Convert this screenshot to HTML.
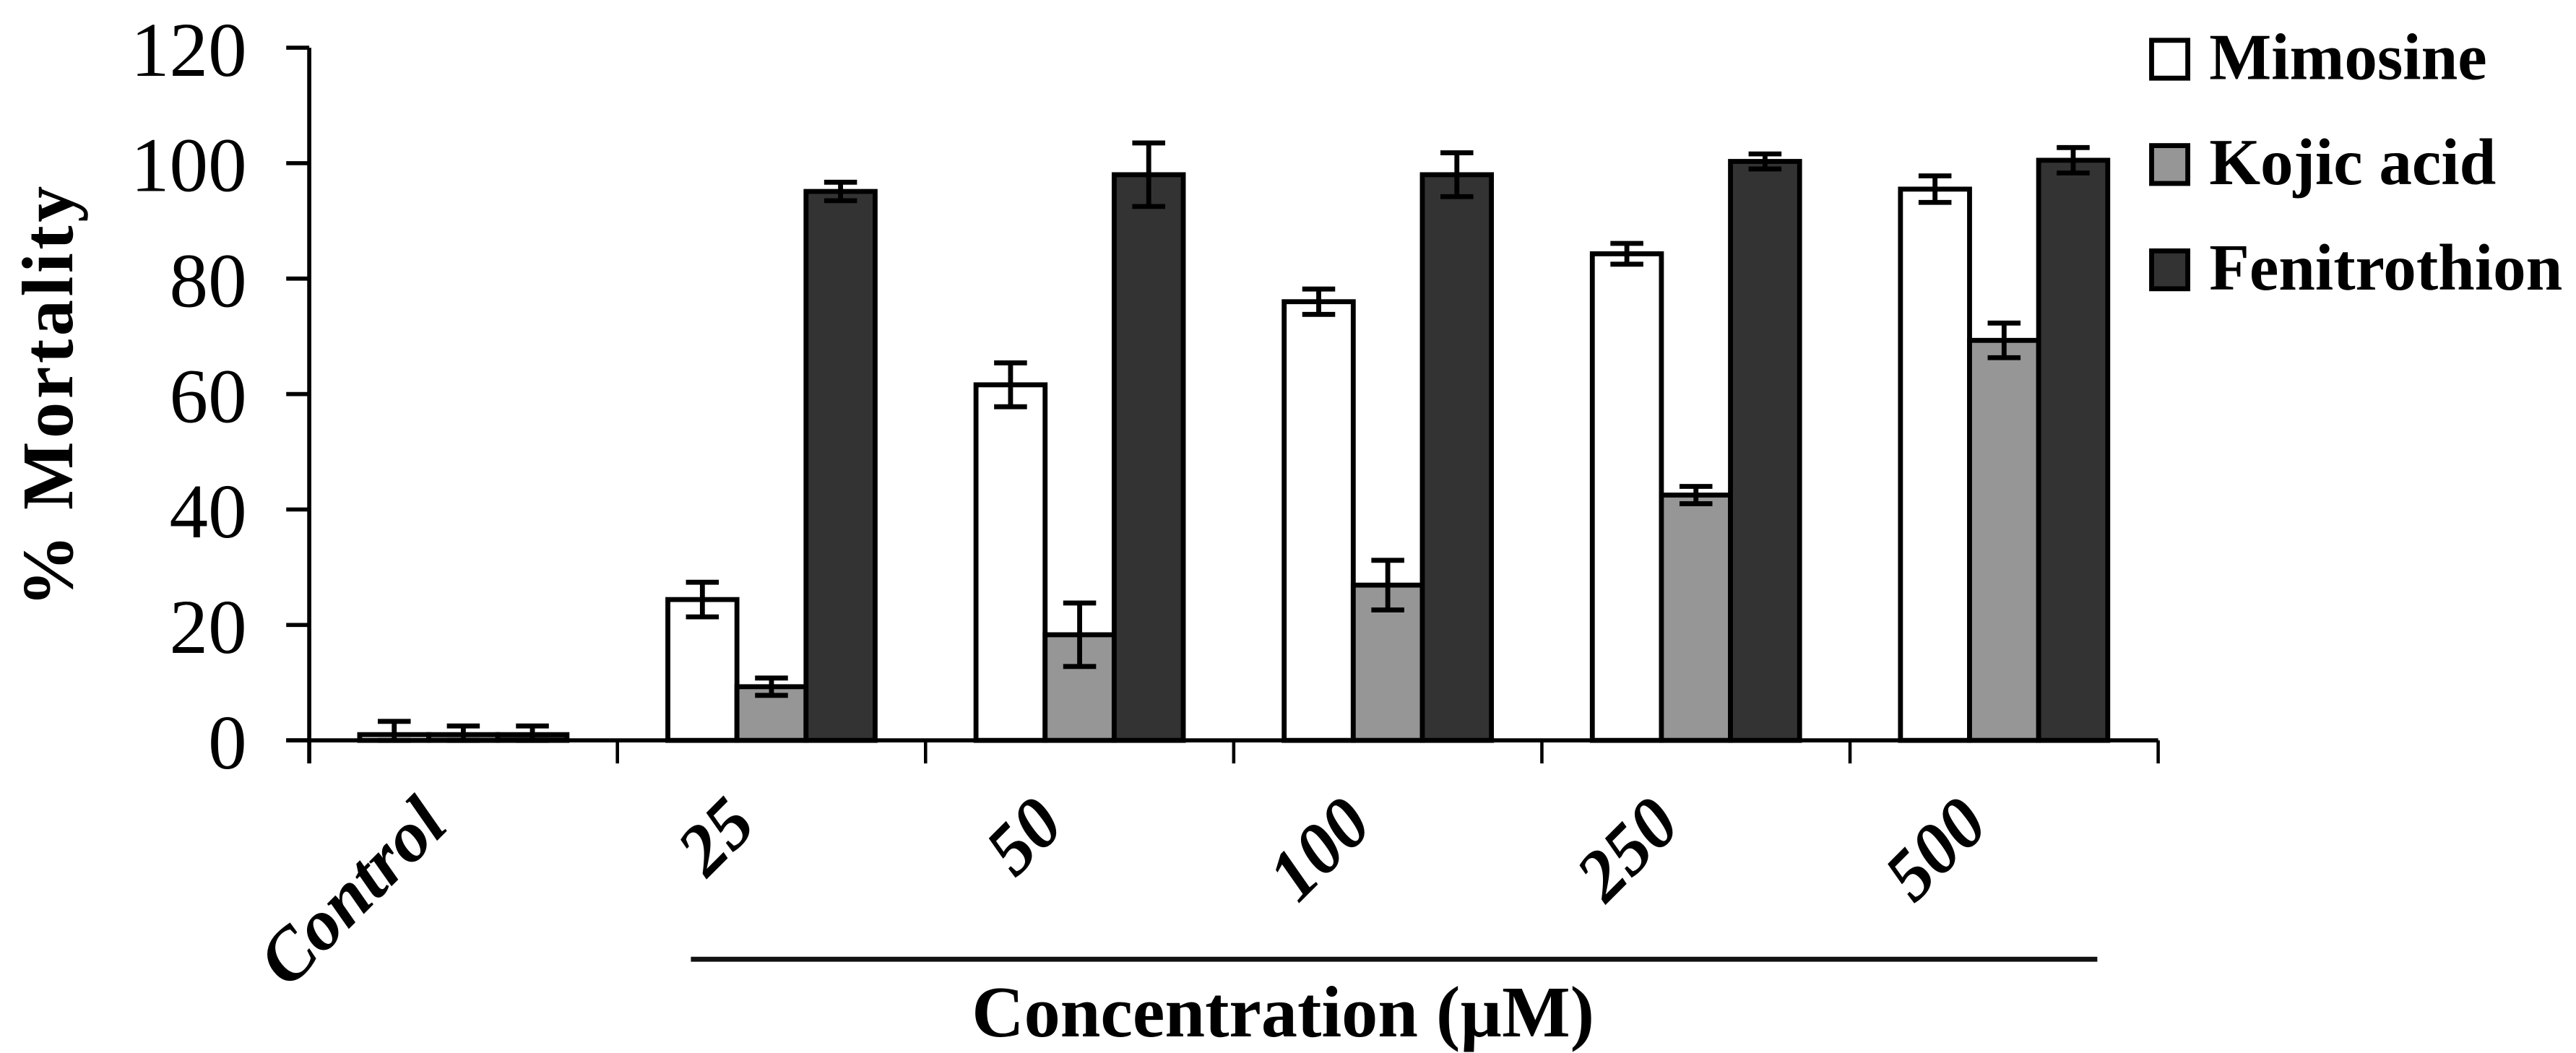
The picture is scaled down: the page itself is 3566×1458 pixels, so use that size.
<!DOCTYPE html>
<html><head><meta charset="utf-8"><style>
html,body{margin:0;padding:0;background:#fff;}
svg{display:block;}
text{font-family:"Liberation Serif","Times New Roman",serif;fill:#000;}
</style></head><body>
<svg id="chart" width="3566" height="1458" viewBox="0 0 1566 640" preserveAspectRatio="none" xmlns="http://www.w3.org/2000/svg">
<g id="axes"></g>
<g id="bars"></g>
<g id="errs"></g>
<g id="legend"></g>
<text transform="translate(44,240) rotate(-90)" text-anchor="middle" font-size="44" font-weight="bold" letter-spacing="2">% Mortality</text>
<line x1="420" y1="583" x2="1275" y2="583" stroke="#111" stroke-width="3"/>
<text x="780" y="630" text-anchor="middle" font-size="44" font-weight="bold">Concentration (µM)</text>
</svg>
<script>
const categories = ["Control","25","50","100","250","500"];
const seriesNames = ["Mimosine","Kojic acid","Fenitrothion"];
const mimosine = [1, 24.4, 61.6, 76, 84.3, 95.5];
const kojic = [1, 9.3, 18.3, 26.9, 42.5, 69.3];
const fenitrothion = [1, 95.1, 98, 98, 100.3, 100.5];
const mimosineErr = [2.3, 3, 3.8, 2.2, 1.8, 2.3];
const kojicErr = [1.5, 1.5, 5.5, 4.3, 1.5, 3];
const fenitrothionErr = [1.5, 1.6, 5.5, 3.8, 1.3, 2.2];
const yTicks = [0, 20, 40, 60, 80, 100, 120];

const NS = "http://www.w3.org/2000/svg";
const X0 = 188, X1 = 1312, Y0 = 450, Y1 = 29, YMAX = 120;
const catW = (X1 - X0) / categories.length;
const barW = 42;
function yScale(v){ return Y0 - (v / YMAX) * (Y0 - Y1); }
function xCat(i){ return X0 + catW * (i + 0.5); }
function mk(tag, attrs, parent){
  const e = document.createElementNS(NS, tag);
  for (const k in attrs) e.setAttribute(k, attrs[k]);
  parent.appendChild(e);
  return e;
}
const axes = document.getElementById('axes');
const bars = document.getElementById('bars');
const errs = document.getElementById('errs');
const legend = document.getElementById('legend');

let l = mk('line', {x1:X0, y1:Y1, x2:X0, y2:Y0+14, stroke:'#000', 'stroke-width':2.5}, axes);


l = mk('line', {x1:X0-14, y1:Y0, x2:X1, y2:Y0, stroke:'#000', 'stroke-width':2.5}, axes);



yTicks.forEach(function(t){
  const y = yScale(t);
  const tk = mk('line', {x1:X0-14, y1:y, x2:X0, y2:y, stroke:'#000', 'stroke-width':2.5}, axes);
  
  
  const tx = mk('text', {x:150, y:y+17, 'text-anchor':'end', 'font-size':47}, axes);
  tx.textContent = t;
  
  
});
for (let i = 0; i <= categories.length; i++){
  const x = X0 + catW * i;
  const tk = mk('line', {x1:x, y1:Y0, x2:x, y2:Y0+14, stroke:'#000', 'stroke-width':2}, axes);
  
  
}
categories.forEach(function(c, i){
  const cx = xCat(i) - 8, cy = 503;
  const tx = mk('text', {x:0, y:0, transform:'translate('+cx+','+cy+') rotate(-45)', 'text-anchor':'end', 'font-size':44, 'font-weight':'bold', 'font-style':'italic'}, axes);
  tx.textContent = c;
  
  
});

const series = [mimosine, kojic, fenitrothion];
const errSeries = [mimosineErr, kojicErr, fenitrothionErr];
const fills = ['#ffffff', '#969696', '#333333'];
series.forEach(function(vals, s){
  vals.forEach(function(v, i){
    const x = xCat(i) - barW * 1.5 + s * barW;
    const y = yScale(v);
    const r = mk('rect', {x:x, y:y, width:barW, height:Y0 - y, fill:fills[s], stroke:'#000', 'stroke-width':3}, bars);
    
    
    const e = errSeries[s][i];
    const cx = x + barW / 2;
    const yt = yScale(v + e), yb = yScale(Math.max(0, v - e));
    const g = mk('g', {stroke:'#000', 'stroke-width':3}, errs);
    
    
    mk('line', {x1:cx, y1:yt, x2:cx, y2:yb}, g);
    mk('line', {x1:cx-10, y1:yt, x2:cx+10, y2:yt}, g);
    mk('line', {x1:cx-10, y1:yb, x2:cx+10, y2:yb}, g);
  });
});

const legendY = [23, 87, 151];
seriesNames.forEach(function(n, s){
  const g = mk('g', {}, legend);
  
  
  mk('rect', {x:1308, y:legendY[s]+1.5, width:22, height:23, fill:fills[s], stroke:'#000', 'stroke-width':3}, g);
  const t = mk('text', {x:1343, y:legendY[s]+25, 'font-size':40, 'font-weight':'bold'}, g);
  t.textContent = n;
});
</script>
</body></html>
